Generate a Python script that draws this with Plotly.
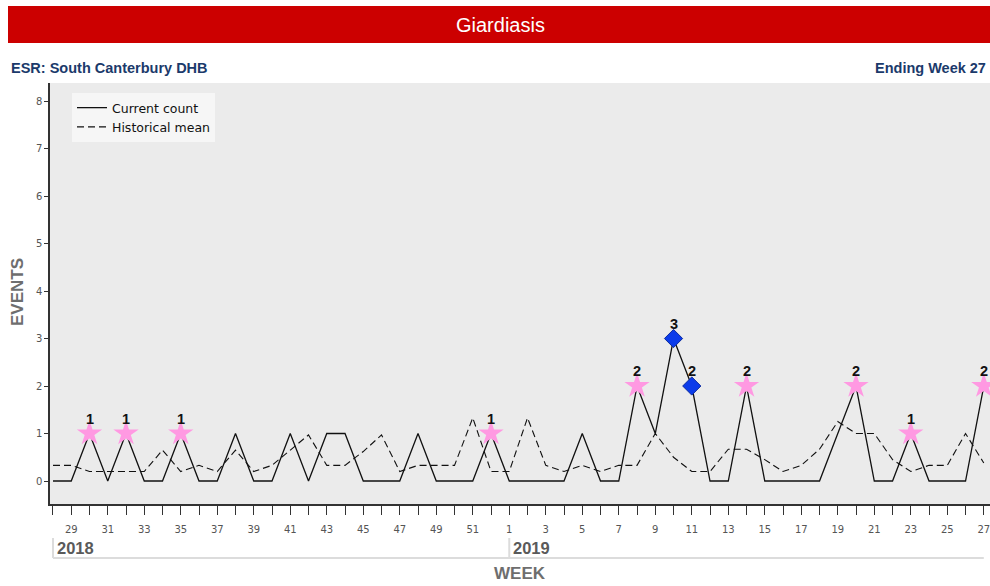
import plotly.graph_objects as go

# ---------------- data ----------------
weeks_2018 = list(range(28, 53))
weeks_2019 = list(range(1, 28))
week_labels = weeks_2018 + weeks_2019
years = [2018] * len(weeks_2018) + [2019] * len(weeks_2019)

current_count = [0, 0, 1, 0, 1, 0, 0, 1, 0, 0, 1, 0, 0, 1, 0, 1, 1, 0, 0, 0, 1, 0, 0, 0, 1,
                 0, 0, 0, 0, 1, 0, 0, 2, 1, 3, 2, 0, 0, 2, 0, 0, 0, 0, 1, 2, 0, 0, 1, 0, 0, 0, 2]

historical_mean = [0.33, 0.33, 0.2, 0.2, 0.2, 0.2, 0.65, 0.2, 0.33, 0.2, 0.65, 0.2, 0.33, 0.65,
                   0.97, 0.33, 0.33, 0.62, 0.97, 0.2, 0.33, 0.33, 0.33, 1.33, 0.2,
                   0.2, 1.33, 0.33, 0.2, 0.33, 0.2, 0.33, 0.33, 1.0, 0.5, 0.2, 0.2, 0.67, 0.67,
                   0.45, 0.2, 0.33, 0.67, 1.25, 1.0, 1.0, 0.45, 0.2, 0.33, 0.33, 1.0, 0.38]

# alert flags per week: '' none, 's' star (pink), 'd' diamond (blue)
alert_flags = ['', '', 's', '', 's', '', '', 's', '', '', '', '', '', '', '', '', '', '', '', '', '', '', '', '', 's',
               '', '', '', '', '', '', '', 's', '', 'd', 'd', '', '', 's', '', '', '', '', '', 's', '', '', 's', '', '', '', 's']

title_text = "Giardiasis"
left_subtitle = "ESR: South Canterbury DHB"
right_subtitle = "Ending Week 27"

# ---------------- figure ----------------
idx = list(range(len(week_labels)))
tick_text = [str(w) if w % 2 == 1 else "" for w in week_labels]

fig = go.Figure()

fig.add_trace(go.Scatter(
    x=idx, y=current_count, mode="lines", name="Current count",
    line=dict(color="#111111", width=1.3), hoverinfo="skip"))
fig.add_trace(go.Scatter(
    x=idx, y=historical_mean, mode="lines", name="Historical mean",
    line=dict(color="#111111", width=1.1, dash="7px,4px"), hoverinfo="skip"))

star_x = [i for i in idx if alert_flags[i] == 's']
star_y = [current_count[i] for i in star_x]
dia_x = [i for i in idx if alert_flags[i] == 'd']
dia_y = [current_count[i] for i in dia_x]

fig.add_trace(go.Scatter(
    x=star_x, y=star_y, mode="markers", showlegend=False,
    marker=dict(symbol="star", size=19, color="#FF99E2", line=dict(width=0)),
    hoverinfo="skip"))
fig.add_trace(go.Scatter(
    x=dia_x, y=dia_y, mode="markers", showlegend=False,
    marker=dict(symbol="diamond", size=14, color="#0B3BEA", line=dict(color="#0A2AA0", width=1)),
    hoverinfo="skip"))

annotations = []
for i in star_x + dia_x:
    annotations.append(dict(
        x=i, y=current_count[i], xref="x", yref="y", text=str(current_count[i]),
        showarrow=False, yshift=15,
        font=dict(family="Liberation Sans, Arial", size=14.5, color="#111111", weight="bold")))

# year group boxes below axis
shapes = []
year_list = sorted(set(years))
first_idx = {y: years.index(y) for y in year_list}
y_box_top = (504 - 538) / 421
y_box_bot = (504 - 558) / 421
for yv in year_list:
    xi = first_idx[yv]
    shapes.append(dict(type="line", xref="x", yref="paper", x0=xi, x1=xi,
                       y0=y_box_top, y1=y_box_bot, line=dict(color="#DCDCDC", width=2)))
    annotations.append(dict(
        x=xi, y=(y_box_top + y_box_bot) / 2, xref="x", yref="paper", text=str(yv),
        showarrow=False, xanchor="left", yanchor="middle", xshift=2,
        font=dict(family="Liberation Sans, Arial", size=16.5, color="#5A5A5A", weight="bold")))
shapes.append(dict(type="line", xref="x", yref="paper", x0=0, x1=len(idx) - 1,
                   y0=y_box_bot, y1=y_box_bot, line=dict(color="#DCDCDC", width=2)))

# title bar
shapes.append(dict(type="rect", xref="paper", yref="paper",
                   x0=(8 - 50) / 940, x1=1.0, y0=(504 - 43) / 421, y1=(504 - 6) / 421,
                   fillcolor="#CC0000", line=dict(width=0), layer="above"))
annotations.append(dict(x=(500 - 50) / 940, y=(504 - 24.5) / 421, xref="paper", yref="paper",
                        text=title_text, showarrow=False, xanchor="center", yanchor="middle",
                        font=dict(family="Liberation Sans, Arial", size=20, color="#FFFFFF")))
annotations.append(dict(x=(9 - 50) / 940, y=(504 - 68) / 421, xref="paper", yref="paper",
                        text=left_subtitle, showarrow=False, xanchor="left", yanchor="middle",
                        font=dict(family="Liberation Sans, Arial", size=14.5, color="#1B3A6B", weight="bold")))
annotations.append(dict(x=(988 - 50) / 940, y=(504 - 68) / 421, xref="paper", yref="paper",
                        text=right_subtitle, showarrow=False, xanchor="right", yanchor="middle",
                        font=dict(family="Liberation Sans, Arial", size=14.5, color="#1B3A6B", weight="bold")))
# axis titles
annotations.append(dict(x=(17 - 50) / 940, y=(504 - 292) / 421, xref="paper", yref="paper",
                        text="EVENTS", showarrow=False, textangle=-90, xanchor="center", yanchor="middle",
                        font=dict(family="Liberation Sans, Arial", size=17, color="#6E6E6E", weight="bold")))
annotations.append(dict(x=(520 - 50) / 940, y=(504 - 573) / 421, xref="paper", yref="paper",
                        text="WEEK", showarrow=False, xanchor="center", yanchor="middle",
                        font=dict(family="Liberation Sans, Arial", size=17, color="#6E6E6E", weight="bold")))

fig.update_layout(
    width=990, height=586,
    margin=dict(l=50, r=0, t=83, b=82),
    paper_bgcolor="#FFFFFF", plot_bgcolor="#EBEBEB",
    font=dict(family="DejaVu Sans", size=11, color="#555555"),
    showlegend=True,
    legend=dict(x=22 / 940, y=(504 - 93) / 421, xanchor="left", yanchor="top",
                bgcolor="#F6F6F6", borderwidth=0,
                font=dict(family="DejaVu Sans", size=12.5, color="#111111"),
                itemwidth=30, tracegroupgap=0),
    shapes=shapes, annotations=annotations,
    xaxis=dict(range=[-0.164, 51.34], tickmode="array", tickvals=idx, ticktext=tick_text,
               ticks="outside", ticklen=9, tickwidth=1.3, tickcolor="#333333",
               showline=True, linecolor="#333333", linewidth=1.5,
               showgrid=False, zeroline=False, ticklabelstandoff=6,
               ticklabeloverflow="allow",
               tickfont=dict(family="DejaVu Sans", size=10, color="#555555")),
    yaxis=dict(range=[-0.484, 8.379], tickmode="array", tickvals=list(range(0, 9)),
               ticks="outside", ticklen=4, tickwidth=1, tickcolor="#333333",
               showline=True, linecolor="#333333", linewidth=1.5,
               showgrid=False, zeroline=False,
               tickfont=dict(family="DejaVu Sans", size=10, color="#555555")),
)

fig.write_html("out.html", config={"displayModeBar": False},
               post_script="document.body.style.margin='0px';document.body.style.overflow='hidden';")
